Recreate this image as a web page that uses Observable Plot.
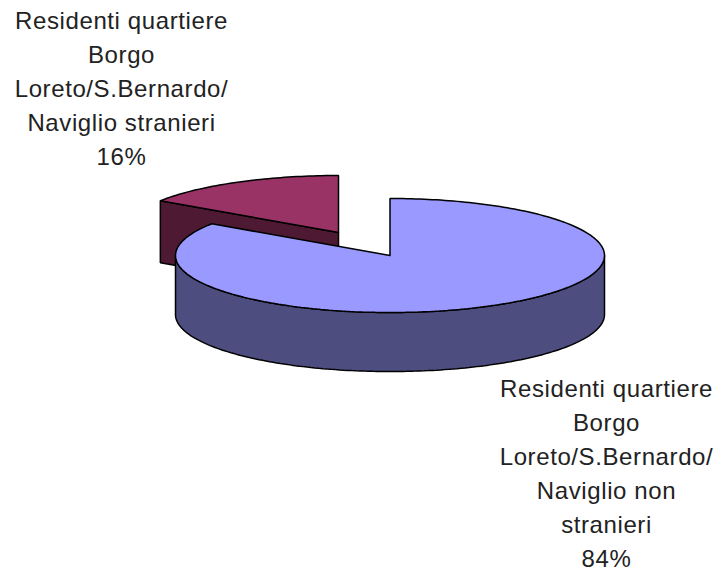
<!DOCTYPE html>
<html>
<head>
<meta charset="utf-8">
<style>html,body{margin:0;padding:0;background:#fff}svg{display:block}</style>
<script src="https://cdn.jsdelivr.net/npm/d3@7"></script>
<script src="https://cdn.jsdelivr.net/npm/@observablehq/plot@0.6"></script>
</head>
<body>
<script>
// Data
const slices = ["non stranieri", "stranieri"];
const shares = [84.4, 15.6];
const labels = [
  "Residenti quartiere\nBorgo\nLoreto/S.Bernardo/\nNaviglio non\nstranieri\n84%",
  "Residenti quartiere\nBorgo\nLoreto/S.Bernardo/\nNaviglio stranieri\n16%"
];

// Pie geometry (layout, not data)
const rx = 214.5, ry = 57, depths = [59, 62];
const centers = [[389.5, 255], [338, 232]];
const labelPos = [[606, 471], [121, 86]];
const topFill = ["#9999ff", "#993366"];
const sideFill = ["#4d4d80", "#4d1933"];

const total = d3.sum(shares);
const tau = 2 * Math.PI;
function pt(c, a, dy = 0) {
  return {x: c[0] + rx * Math.sin(a), y: c[1] - ry * Math.cos(a) + dy};
}
function arc(c, a0, a1, dy = 0) {
  const n = Math.max(2, Math.ceil(Math.abs(a1 - a0) / 0.02));
  return d3.range(n + 1).map(i => pt(c, a0 + (a1 - a0) * i / n, dy));
}
// clockwise slice angles from 12 o'clock
let acc = 0;
const angles = shares.map(v => { const a0 = acc / total * tau; acc += v; return [a0, acc / total * tau]; });

const apex = (c, dy = 0) => ({x: c[0], y: c[1] + dy});

// Blue slice
const bc = centers[0], [b0, b1] = angles[0];
const blueTop = [apex(bc), ...arc(bc, b0, b1), apex(bc)];
const blueSide = [...arc(bc, Math.PI / 2, 1.5 * Math.PI), ...arc(bc, 1.5 * Math.PI, Math.PI / 2, depths[0])];
blueSide.push(blueSide[0]);

// Exploded red slice
const rc = centers[1], [r0, r1] = angles[1];
const redTop = [apex(rc), ...arc(rc, r0, r1), apex(rc)];
const redFace = [pt(rc, r0), pt(rc, r0, depths[1]), apex(rc, depths[1]), apex(rc), pt(rc, r0)];

const poly = (pts, fill) => Plot.line(pts, {
  x: "x", y: "y", fill, stroke: "#000", strokeWidth: 1.5, strokeLinejoin: "miter", curve: "linear"
});

const plot = Plot.plot({
  width: 717, height: 570,
  margin: 0,
  x: {domain: [0, 717], range: [0, 717], axis: null},
  y: {domain: [0, 570], range: [0, 570], axis: null},
  style: {background: "#fff", letterSpacing: "0.6px"},
  marks: [
    poly(redFace, sideFill[1]),
    poly(redTop, topFill[1]),
    poly(blueSide, sideFill[0]),
    poly(blueTop, topFill[0]),
    Plot.text(labels, {
      x: (d, i) => labelPos[i][0],
      y: (d, i) => labelPos[i][1],
      text: d => d,
      fontFamily: "Liberation Sans, Arial, sans-serif",
      fontSize: 24,
      lineHeight: 1.417,
      fill: "#222",
      textAnchor: "middle"
    })
  ]
});
document.body.appendChild(plot);
</script>
</body>
</html>
